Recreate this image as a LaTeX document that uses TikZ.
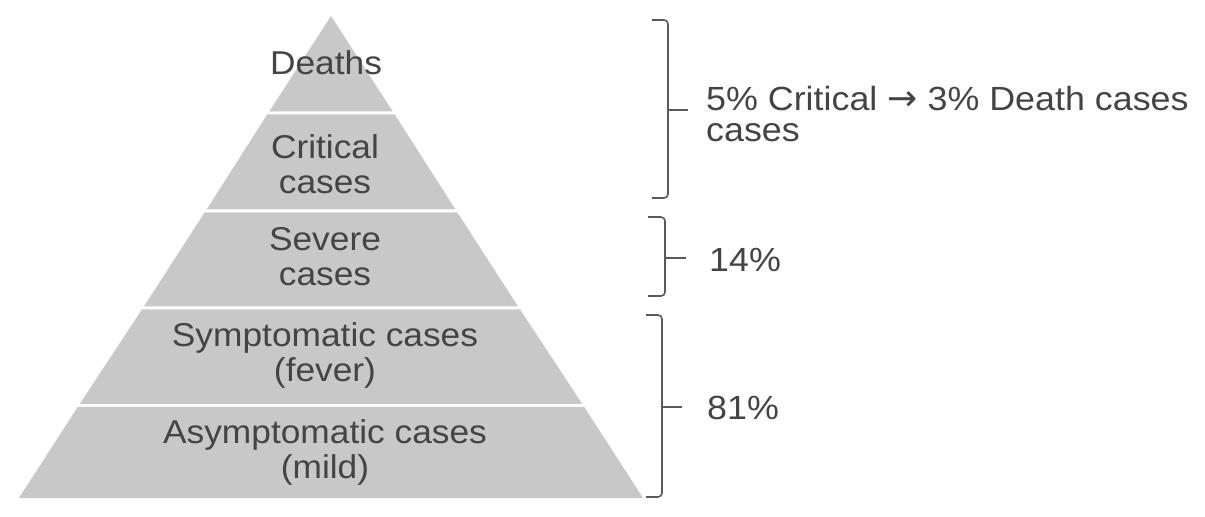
\documentclass[tikz,border=0pt]{standalone}
\usepackage{fontspec}
\setmainfont[FakeStretch=1.07]{Liberation Sans}
\newfontfamily\arrowfont{DejaVu Sans}
\definecolor{pyrfill}{HTML}{C8C8C8}
\definecolor{txtcol}{HTML}{444444}
\definecolor{brcol}{HTML}{5A5A5A}
\begin{document}
\begin{tikzpicture}[x=1bp,y=-1bp,
  layer/.style={fill=pyrfill,draw=none},
  lbl/.style={text=txtcol,align=center,font=\fontsize{33bp}{35bp}\selectfont,inner sep=0pt},
  pct/.style={text=txtcol,align=left,font=\fontsize{33.5bp}{31.5bp}\selectfont,inner sep=0pt},
  brace/.style={draw=brcol,line width=1.6bp,rounded corners=4bp}]
\useasboundingbox (0,0) rectangle (1205,517);
% pyramid layers (apex (331,16), half-width 0.647*(y-16))
\fill[layer] (331,16) -- (392.8,111.5) -- (269.2,111.5) -- cycle;
\fill[layer] (267.2,114.5) -- (394.8,114.5) -- (455.4,209.5) -- (206.6,209.5) -- cycle;
\fill[layer] (204.6,212.5) -- (457.4,212.5) -- (518.1,306.5) -- (143.9,306.5) -- cycle;
\fill[layer] (141.9,309.5) -- (520.1,309.5) -- (582.3,404) -- (79.7,404) -- cycle;
\fill[layer] (77.7,407) -- (584.3,407) -- (643,498) -- (19,498) -- cycle;
% labels
\node[lbl] (deaths) at (326,63) {Deaths};
\node[lbl] (critical) at (325,164) {Critical\\cases};
\node[lbl] (severe) at (325,257) {Severe\\cases};
\node[lbl] (sympt) at (325,355) {Symptomatic cases\\(fever)};
\node[lbl] (asympt) at (325,452) {Asymptomatic cases\\(mild)};
% braces
\draw[brace] (652,20) -- (668,20) -- (668,198) -- (652,198);
\draw[draw=brcol,line width=1.6bp] (668,110) -- (688,110);
\draw[brace] (648,217) -- (665,217) -- (665,296) -- (648,296);
\draw[draw=brcol,line width=1.6bp] (665,258) -- (686,258);
\draw[brace] (646,315) -- (662,315) -- (662,497) -- (646,497);
\draw[draw=brcol,line width=1.6bp] (662,407) -- (682,407);
% right texts
\node[pct,anchor=base west] (crit) at (706,142) {5\% Critical {\arrowfont\fontsize{36bp}{29bp}\selectfont →} 3\% Death cases\\cases};
\node[pct,anchor=west] (p14) at (709,260) {14\%};
\node[pct,anchor=west] (p81) at (707,408) {81\%};
\end{tikzpicture}
\end{document}
